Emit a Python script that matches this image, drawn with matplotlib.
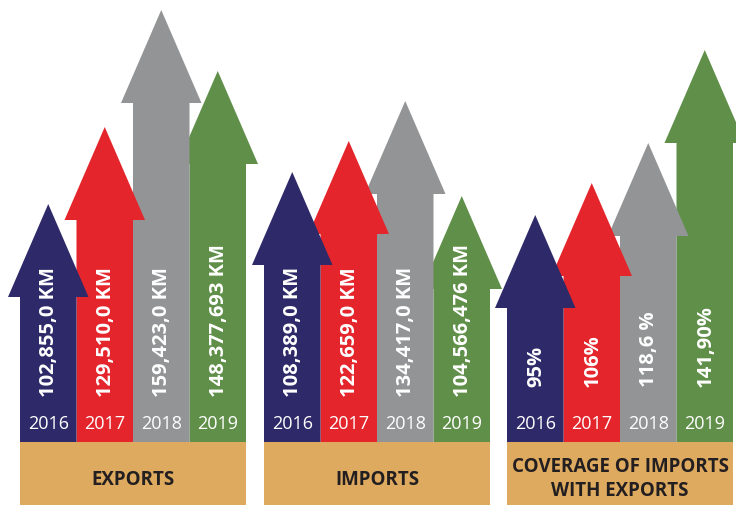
import matplotlib
matplotlib.use("Agg")
import matplotlib.pyplot as plt
from matplotlib.patches import Polygon, Rectangle

# Chart data
years = ["2016", "2017", "2018", "2019"]
group_names = ["EXPORTS", "IMPORTS", "COVERAGE OF IMPORTS\nWITH EXPORTS"]

export_labels = ["102,855,0 KM", "129,510,0 KM", "159,423,0 KM", "148,377,693 KM"]
import_labels = ["108,389,0 KM", "122,659,0 KM", "134,417,0 KM", "104,566,476 KM"]
coverage_labels = ["95%", "106%", "118,6 %", "141,90%"]

# drawn arrow lengths (same scale for all groups)
export_lengths = [238, 315, 432, 371]
import_lengths = [270, 301, 341, 246]
coverage_lengths = [227, 259, 299, 392]

year_colors = ["#2E2A69", "#E4252B", "#939495", "#5F8F49"]
base_color = "#DEAA5F"
text_dark = "#231F20"

plt.rcParams["font.family"] = ["Open Sans", "DejaVu Sans"]


def arrow(ax, x0, width, length, color, z):
    # shaft + triangular head as one polygon
    head_h = 93
    wing = 12
    xc = x0 + width / 2
    yb = length - head_h
    pts = [
        (x0, 0), (x0 + width, 0), (x0 + width, yb), (x0 + width + wing, yb),
        (xc, length), (x0 - wing, yb), (x0, yb),
    ]
    ax.add_patch(Polygon(pts, closed=True, facecolor=color, edgecolor="none", zorder=z))


def main():
    fig = plt.figure(figsize=(7.36, 5.06), dpi=100)
    ax = fig.add_axes([0, 0, 1, 1])
    ax.set_xlim(0, 736)
    ax.set_ylim(-63, 443)
    ax.axis("off")

    group_x = [20, 264, 507]
    shaft_w = 56.5
    all_labels = [export_labels, import_labels, coverage_labels]
    all_lengths = [export_lengths, import_lengths, coverage_lengths]
    label_y = [46, 46, 56]

    for g, name in enumerate(group_names):
        gx = group_x[g]
        for i, year in enumerate(years):
            x0 = gx + i * shaft_w
            arrow(ax, x0, shaft_w, all_lengths[g][i], year_colors[i], 10 - i)
            ax.text(x0 + shaft_w / 2, 19, year, color="white", fontsize=13,
                    ha="center", va="center", zorder=20)
            ax.text(x0 + shaft_w / 2 + 1, label_y[g], all_labels[g][i], color="white",
                    fontsize=14.5, fontweight="bold", rotation=90,
                    ha="center", va="bottom", zorder=20)
        ax.add_patch(Rectangle((gx, -70), 4 * shaft_w, 70, facecolor=base_color,
                               edgecolor="none", zorder=15))
        ax.text(gx + 2 * shaft_w, -37 if g < 2 else -36, name, color=text_dark,
                fontsize=13.5, fontweight="bold", ha="center", va="center",
                linespacing=1.25, zorder=20)

    fig.savefig("out.png", dpi=100)
    plt.close(fig)


if __name__ == "__main__":
    main()
